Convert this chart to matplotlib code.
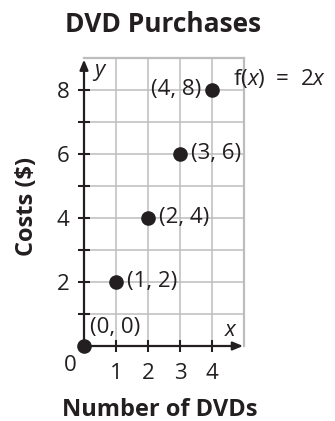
import matplotlib.pyplot as plt

plt.rcParams["font.family"] = ["Open Sans", "DejaVu Sans"]
plt.rcParams["mathtext.fontset"] = "custom"
plt.rcParams["mathtext.rm"] = "Open Sans"
plt.rcParams["mathtext.it"] = "Open Sans:italic"

# data: f(x) = 2x
dvds = [0, 1, 2, 3, 4]
costs = [0, 2, 4, 6, 8]
point_labels = ["(0, 0)", "(1, 2)", "(2, 4)", "(3, 6)", "(4, 8)"]
x_ticks = [1, 2, 3, 4]
y_ticks = [1, 2, 3, 4, 5, 6, 7, 8]
y_tick_labels = ["", "2", "", "4", "", "6", "", "8"]

grid_col = "#bdbdbd"
ink = "#231f20"
fs = 16

fig = plt.figure(figsize=(3.35, 4.21), dpi=100)
ax = fig.add_axes([84 / 335, 75 / 421, 160 / 335, 288 / 421])
ax.set_xlim(0, 5)
ax.set_ylim(0, 9)

ax.set_xticks(x_ticks)
ax.set_xticklabels([str(v) for v in x_ticks])
ax.set_yticks(y_ticks)
ax.set_yticklabels(y_tick_labels)
ax.grid(True, color=grid_col, lw=1.1)
ax.tick_params(direction="inout", length=9, width=1.5, color=ink,
               labelsize=fs, labelcolor=ink)
ax.tick_params(axis="x", pad=8)
ax.tick_params(axis="y", pad=6)

for side in ["top", "right"]:
    ax.spines[side].set_color(grid_col)
    ax.spines[side].set_linewidth(1.6)
for side in ["left", "bottom"]:
    ax.spines[side].set_visible(False)

# axes with arrows
arrow = dict(arrowstyle="-|>,head_length=0.6,head_width=0.25", color=ink,
             lw=1.6, shrinkA=0, shrinkB=0)
ax.annotate("", xy=(4.97, 0), xytext=(0, 0), arrowprops=arrow, zorder=5)
ax.annotate("", xy=(0, 8.95), xytext=(0, 0), arrowprops=arrow, zorder=5)

ax.plot(dvds, costs, "o", color=ink, ms=9.5, clip_on=False, zorder=6)

offsets = [(4, 13), (8, 0), (8, 0), (8, 0), (-8, 0)]
for x, y, lab, off in zip(dvds, costs, point_labels, offsets):
    ha = "right" if off[0] < 0 else "left"
    ax.annotate(lab, (x, y), xytext=off, textcoords="offset points",
                ha=ha, va="center", fontsize=fs, color=ink)

ax.annotate(r"f($x$)  =  2$x$", (dvds[-1], costs[-1]), xytext=(15, 8),
            textcoords="offset points", ha="left", va="center",
            fontsize=fs, color=ink, annotation_clip=False)
ax.annotate("0", (0, 0), xytext=(-10, -14), textcoords="offset points",
            ha="center", va="center", fontsize=fs, color=ink)
ax.text(4.6, 0.5, "$x$", fontsize=fs, color=ink, ha="center", va="center")
ax.text(0.5, 8.55, "$y$", fontsize=fs, color=ink, ha="center", va="center")

fig.text(163 / 335, 1 - 24 / 421, "DVD Purchases", fontsize=19,
         fontweight="bold", ha="center", va="center", color=ink)
fig.text(160 / 335, 1 - 410 / 421, "Number of DVDs", fontsize=17,
         fontweight="bold", ha="center", va="center", color=ink)
fig.text(27 / 335, 1 - 206 / 421, "Costs ($)", fontsize=17,
         fontweight="bold", ha="center", va="center", rotation=90, color=ink)

fig.savefig("out.png", dpi=100)
